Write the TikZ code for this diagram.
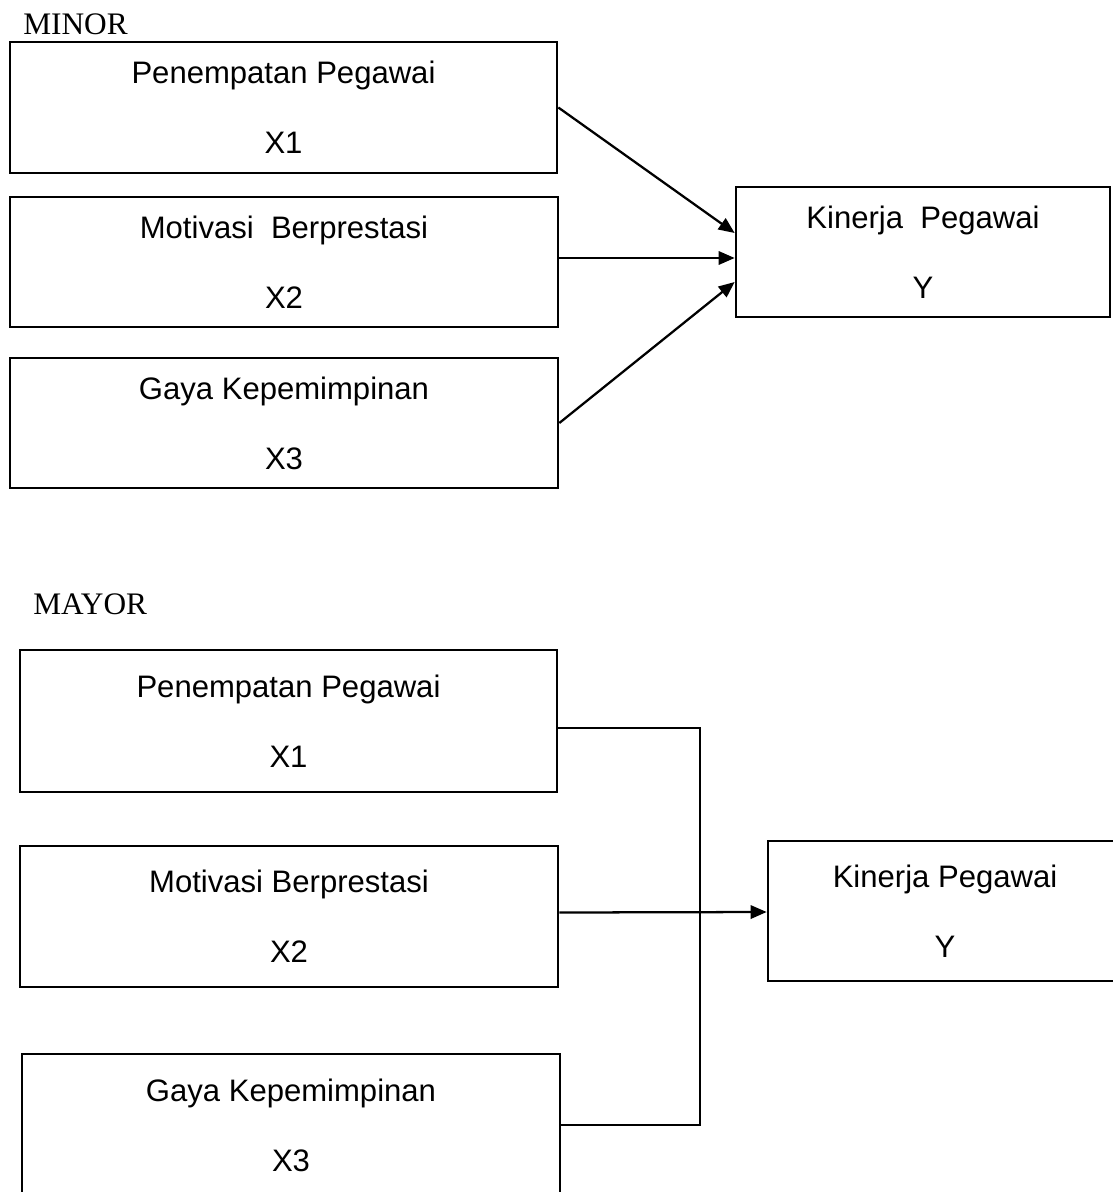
\documentclass[tikz,border=0pt]{standalone}
\usepackage{fontspec}
\setmainfont{Liberation Serif}
\setsansfont{Liberation Sans}
\usetikzlibrary{arrows.meta,calc}
\begin{document}
\begin{tikzpicture}[x=0.75pt,y=-0.75pt,
  boxnode/.style={draw,line width=2pt,inner sep=0pt,align=center,
    font=\sffamily\fontsize{23.3}{52.5}\selectfont},
  heading/.style={anchor=base west,inner sep=0pt,font=\fontsize{23.5}{28}\selectfont},
  conn/.style={line width=1.7pt},
  arr/.style={conn,-{Triangle[length=12pt,width=10pt]}}]
\useasboundingbox (0,0) rectangle (1113,1192);
\clip (0,0) rectangle (1113,1192);
\fill[white] (0,0) rectangle (1113,1192);
% ---------- MINOR ----------
\node[heading] (minor) at (23,34) {MINOR};
\node[boxnode,minimum width=410.25pt,minimum height=98.25pt] (b1) at (283.5,107.5) {Penempatan Pegawai\\X1};
\node[boxnode,minimum width=411pt,minimum height=97.5pt] (b2) at (284,262) {Motivasi~~Berprestasi\\X2};
\node[boxnode,minimum width=411pt,minimum height=97.5pt] (b3) at (284,423) {Gaya Kepemimpinan\\X3};
\node[boxnode,minimum width=280.5pt,minimum height=97.5pt] (y1) at (923,252) {Kinerja~~Pegawai\\Y};
\draw[arr] (b1.east) -- ($(y1.west)+(0,-19)$);
\draw[arr] ($(b2.east)+(0,-4)$) -- ($(y1.west)+(0,6)$);
\draw[arr] (b3.east) -- ($(y1.west)+(0,30)$);
% ---------- MAYOR ----------
\node[heading] (mayor) at (33,614) {MAYOR};
\node[boxnode,minimum width=402.75pt,minimum height=106.5pt] (bb1) at (288.5,721) {Penempatan Pegawai\\X1};
\node[boxnode,minimum width=403.5pt,minimum height=105.75pt] (bb2) at (289,916.5) {Motivasi Berprestasi\\X2};
\node[boxnode,minimum width=403.5pt,minimum height=106.5pt] (bb3) at (291,1125) {Gaya Kepemimpinan\\X3};
\node[boxnode,minimum width=265.5pt,minimum height=105pt] (y2) at (945,911) {Kinerja Pegawai\\Y};
\coordinate (j1) at (700,728);
\draw[conn] ($(bb1.east)+(0,7)$) -- (j1) |- (bb3.east);
\draw[arr] ($(bb2.east)+(0,-4)$) -- ($(y2.west)+(0,1)$);
\end{tikzpicture}
\end{document}
